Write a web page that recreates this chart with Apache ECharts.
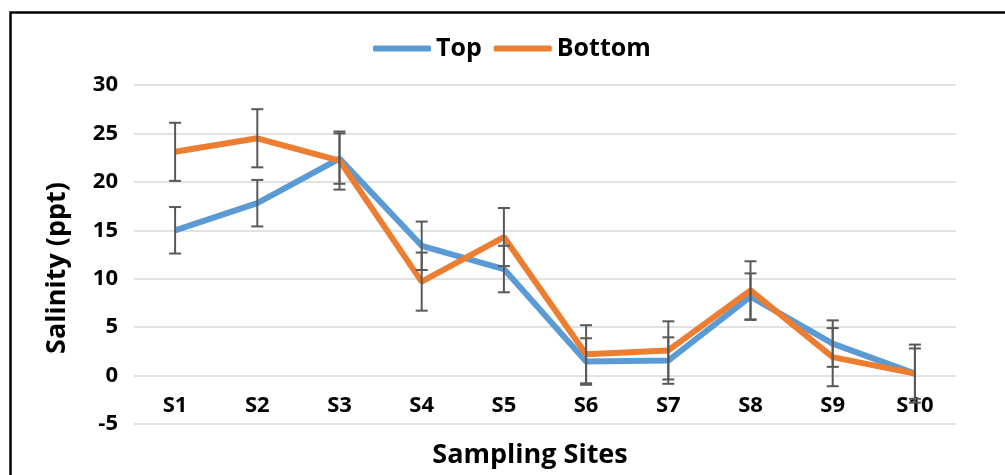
<!DOCTYPE html>
<html>
<head>
<meta charset="utf-8">
<script src="https://cdn.jsdelivr.net/npm/echarts@6/dist/echarts.min.js"></script>
<style>
html, body { margin: 0; padding: 0; background: #fff; }
#main { width: 1005px; height: 475px; }
</style>
</head>
<body>
<div id="main"></div>
<script>
var sites = ['S1', 'S2', 'S3', 'S4', 'S5', 'S6', 'S7', 'S8', 'S9', 'S10'];
var topVals = [15.0, 17.8, 22.4, 13.4, 11.0, 1.45, 1.55, 8.15, 3.3, 0.2];
var bottomVals = [23.1, 24.5, 22.2, 9.7, 14.3, 2.2, 2.6, 8.8, 1.9, 0.2];
var topErr = [2.4, 2.4, 2.6, 2.5, 2.4, 2.4, 2.4, 2.4, 2.4, 3.0];
var bottomErr = [3.0, 3.0, 3.0, 3.0, 3.0, 3.0, 3.0, 3.0, 3.0, 2.6];

var font = '"Open Sans", sans-serif';

// error bar rows: [index, low, high]
function errRows(vals, errs) {
  var out = [];
  for (var i = 0; i < vals.length; i++) {
    out.push([i, vals[i] - errs[i], vals[i] + errs[i]]);
  }
  return out;
}

function drawErr(params, api) {
  var x = api.value(0);
  var lo = api.coord([x, api.value(1)]);
  var hi = api.coord([x, api.value(2)]);
  var w = 6;
  var st = { stroke: '#595959', lineWidth: 2 };
  return {
    type: 'group',
    children: [
      { type: 'line', shape: { x1: hi[0], y1: hi[1], x2: lo[0], y2: lo[1] }, style: st },
      { type: 'line', shape: { x1: hi[0] - w, y1: hi[1], x2: hi[0] + w, y2: hi[1] }, style: st },
      { type: 'line', shape: { x1: lo[0] - w, y1: lo[1], x2: lo[0] + w, y2: lo[1] }, style: st }
    ]
  };
}

var myChart = echarts.init(document.getElementById('main'));
var option = {
  backgroundColor: '#fff',
  animation: false,
  grid: { left: 134, right: 49, top: 85, bottom: 51 },
  legend: {
    top: 31,
    left: 368,
    itemWidth: 58,
    itemHeight: 6,
    itemGap: 12,
    icon: 'roundRect',
    textStyle: { fontFamily: font, fontWeight: 'bold', fontSize: 25, color: '#000' },
    data: ['Top', 'Bottom']
  },
  xAxis: {
    type: 'category',
    data: sites,
    axisLine: { show: false },
    axisTick: { show: false },
    axisLabel: { margin: -29, fontFamily: font, fontWeight: 'bold', fontSize: 22, color: '#000' }
  },
  yAxis: {
    type: 'value',
    min: -5,
    max: 30,
    interval: 5,
    axisLine: { show: false },
    axisTick: { show: false },
    axisLabel: { margin: 16, fontFamily: font, fontWeight: 'bold', fontSize: 22, color: '#000' },
    splitLine: { lineStyle: { color: '#d9d9d9', width: 1.5 } }
  },
  graphic: [
    {
      type: 'rect', left: 8, top: 10, silent: true,
      shape: { width: 1100, height: 600 },
      style: { fill: 'none', stroke: '#000', lineWidth: 2.5 }
    },
    {
      type: 'text', x: 530, y: 455,
      style: { text: 'Sampling Sites', fontFamily: font, fontWeight: 'bold', fontSize: 27,
        fill: '#000', align: 'center', verticalAlign: 'middle' }
    },
    {
      type: 'text', x: 57, y: 268, rotation: Math.PI / 2,
      style: { text: 'Salinity (ppt)', fontFamily: font, fontWeight: 'bold', fontSize: 27,
        fill: '#000', align: 'center', verticalAlign: 'middle' }
    }
  ],
  series: [
    {
      name: 'Top', type: 'line', data: topVals, showSymbol: false, symbol: 'none',
      color: '#5b9bd5', lineStyle: { width: 6, color: '#5b9bd5' }, z: 2
    },
    {
      name: 'Bottom', type: 'line', data: bottomVals, showSymbol: false, symbol: 'none',
      color: '#ed7d31', lineStyle: { width: 6, color: '#ed7d31' }, z: 3
    },
    {
      type: 'custom', renderItem: drawErr, data: errRows(topVals, topErr),
      encode: { x: 0, y: [1, 2] }, z: 4
    },
    {
      type: 'custom', renderItem: drawErr, data: errRows(bottomVals, bottomErr),
      encode: { x: 0, y: [1, 2] }, z: 4
    }
  ]
};
myChart.setOption(option);
</script>
</body>
</html>
